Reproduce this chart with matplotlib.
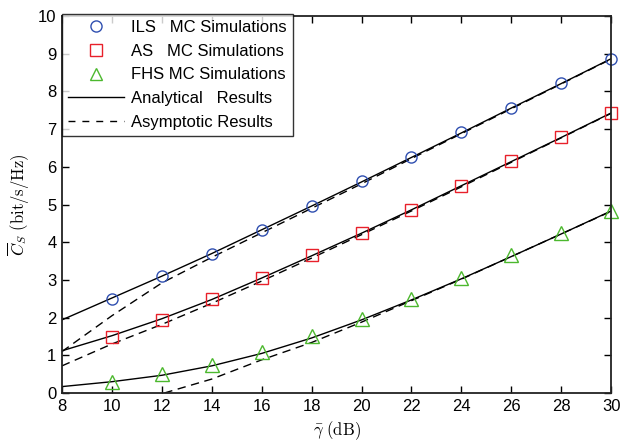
import matplotlib
matplotlib.use('Agg')
import matplotlib.pyplot as plt
from matplotlib.lines import Line2D

# SNR grid (dB)
snr_mc = [10, 12, 14, 16, 18, 20, 22, 24, 26, 28, 30]
snr_an = [8, 10, 12, 14, 16, 18, 20, 22, 24, 26, 28, 30]

# Monte Carlo simulations
ils_mc = [2.50, 3.10, 3.70, 4.33, 4.97, 5.63, 6.27, 6.93, 7.57, 8.23, 8.87]
as_mc = [1.48, 1.95, 2.50, 3.05, 3.65, 4.25, 4.85, 5.50, 6.15, 6.80, 7.43]
fhs_mc = [0.30, 0.50, 0.75, 1.08, 1.50, 1.97, 2.50, 3.05, 3.65, 4.25, 4.82]

# Analytical results
ils_an = [1.94, 2.52, 3.10, 3.70, 4.33, 4.96, 5.60, 6.25, 6.90, 7.56, 8.21, 8.87]
as_an = [1.12, 1.52, 1.97, 2.48, 3.05, 3.64, 4.24, 4.86, 5.50, 6.14, 6.78, 7.43]
fhs_an = [0.17, 0.30, 0.47, 0.72, 1.05, 1.46, 1.94, 2.47, 3.03, 3.62, 4.22, 4.83]

# Asymptotic results
ils_asy = [1.10, 2.05, 2.92, 3.60, 4.25, 4.90, 5.55, 6.22, 6.88, 7.54, 8.20, 8.86]
as_asy = [0.72, 1.30, 1.82, 2.38, 2.97, 3.58, 4.20, 4.83, 5.47, 6.12, 6.77, 7.42]
snr_fhs_asy = [12.1, 14, 16, 18, 20, 22, 24, 26, 28, 30]
fhs_asy = [0.00, 0.37, 0.88, 1.34, 1.88, 2.45, 3.02, 3.62, 4.22, 4.82]

plt.rcParams['font.family'] = ['Liberation Sans', 'DejaVu Sans']
plt.rcParams['mathtext.fontset'] = 'cm'

fig = plt.figure(figsize=(6.23, 4.47), dpi=100)
ax = fig.add_axes([0.0995, 0.1208, 0.8815, 0.8432])

dash = (0, (6, 4))
for y in (ils_an, as_an, fhs_an):
    ax.plot(snr_an, y, color='black', lw=1.0)
for x, y in ((snr_an, ils_asy), (snr_an, as_asy), (snr_fhs_asy, fhs_asy)):
    ax.plot(x, y, color='black', lw=1.0, linestyle=dash)

# markers drawn past the right spine like MATLAB does
ax.plot(snr_mc, ils_mc, 'o', ms=8, mfc='none', mec='#2f4fb0', mew=1.0, clip_on=False)
ax.plot(snr_mc, as_mc, 's', ms=8, mfc='none', mec='#e8202a', mew=1.0, clip_on=False)
ax.plot(snr_mc, fhs_mc, '^', ms=9.5, mfc='none', mec='#4cb82e', mew=1.0, clip_on=False)

ax.set_xlim(8, 30)
ax.set_ylim(0, 10)
ax.set_xticks(range(8, 31, 2))
ax.set_yticks(range(0, 11))
ax.tick_params(direction='in', top=True, right=True, labelsize=12, length=5,
               width=1, pad=4)
for s in ax.spines.values():
    s.set_linewidth(1.3)
    s.set_color('#222222')

ax.set_xlabel(r'$\bar{\gamma}\ \mathrm{(dB)}$', fontsize=12)
ax.set_ylabel(r'$\overline{C}_S\ \mathrm{(bit/s/Hz)}$', fontsize=12)

handles = [
    Line2D([], [], ls='none', marker='o', ms=8, mfc='none', mec='#2f4fb0'),
    Line2D([], [], ls='none', marker='s', ms=8, mfc='none', mec='#e8202a'),
    Line2D([], [], ls='none', marker='^', ms=9, mfc='none', mec='#4cb82e'),
    Line2D([], [], color='black', lw=1.0),
    Line2D([], [], color='black', lw=1.0, linestyle=(0, (5, 5))),
]
labels = ['ILS   MC Simulations', 'AS   MC Simulations', 'FHS MC Simulations',
          'Analytical   Results', 'Asymptotic Results']
leg = ax.legend(handles, labels, loc='upper left', bbox_to_anchor=(0.0, 1.005),
                fontsize=12, frameon=True, fancybox=False, borderpad=0.35,
                labelspacing=0.52, handlelength=3.4, handletextpad=0.4,
                borderaxespad=0)
leg.get_frame().set_edgecolor('black')
leg.get_frame().set_linewidth(1.0)
leg.set_zorder(5)

fig.savefig('out.png', dpi=100)
